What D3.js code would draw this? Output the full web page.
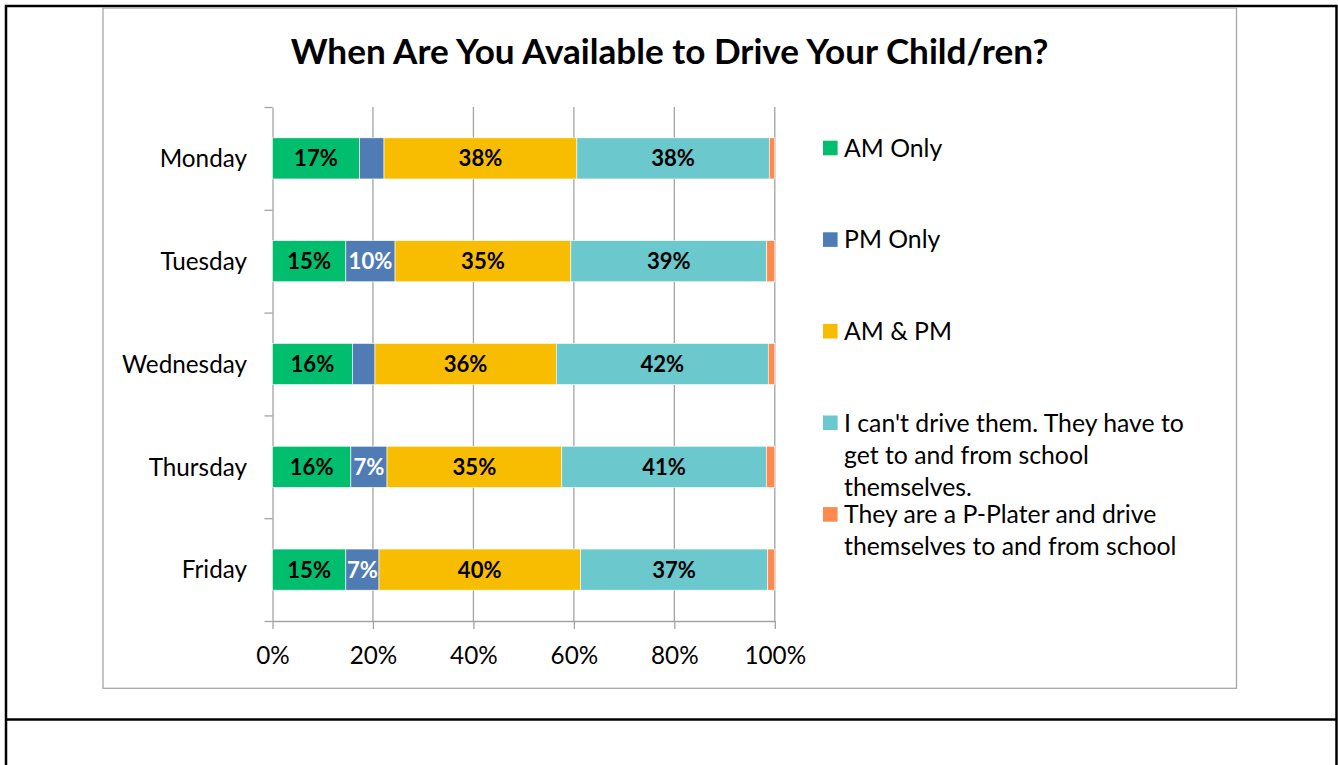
<!DOCTYPE html>
<html>
<head>
<meta charset="utf-8">
<script src="https://cdn.jsdelivr.net/npm/d3@7"></script>
<style>
  html, body { margin: 0; padding: 0; background: #fff; }
  svg { display: block; }
</style>
</head>
<body>
<svg id="chart" width="1338" height="765"></svg>
<script>
// ---- data ----
const days = ["Monday", "Tuesday", "Wednesday", "Thursday", "Friday"];
const seriesKeys = ["amOnly", "pmOnly", "amPm", "cantDrive", "pPlater"];
const amOnly    = [17.3, 14.6, 15.9, 15.6, 14.6];
const pmOnly    = [4.9, 9.8, 4.5, 7.2, 6.6];
const amPm      = [38.4, 35.0, 36.1, 34.8, 40.1];
const cantDrive = [38.3, 39.0, 42.2, 40.7, 37.3];
const pPlater   = [1.1, 1.6, 1.3, 1.7, 1.4];
const xTicks = [0, 20, 40, 60, 80, 100];
const legendLines = [
  ["AM Only"],
  ["PM Only"],
  ["AM & PM"],
  ["I can't drive them. They have to", "get to and from school", "themselves."],
  ["They are a P-Plater and drive", "themselves to and from school"]
];
const titleText = "When Are You Available to Drive Your Child/ren?";

// ---- styles ----
const colors = ["#00BE6E", "#507CB6", "#F8BD00", "#6BC8CC", "#FD8A4E"];
const labelColors = ["#000", "#fff", "#000", "#000", null];
const FONT = "Lato, 'Open Sans', sans-serif";
const gridColor = "#a3a3a3";

const svg = d3.select("#chart");

// font fitting helper
function measure(text, size, weight) {
  const t = svg.append("text").attr("font-family", FONT).attr("font-size", size)
    .attr("font-weight", weight).text(text);
  const w = t.node().getComputedTextLength();
  t.remove();
  return w;
}
const regSize = 26 * 125 / measure("Wednesday", 26, 400);
const legSize = 26 * 340 / measure("I can't drive them. They have to", 26, 400);
const boldLblSize = 26 * 43.7 / measure("38%", 26, 700);
const titleSize = 30 * 758 / measure(titleText, 30, 700);
const CAP = 0.7165;

// ---- frames ----
svg.append("rect").attr("x", 6).attr("y", 6).attr("width", 1330.5).attr("height", 800)
  .attr("fill", "none").attr("stroke", "#000").attr("stroke-width", 2.5);
svg.append("line").attr("x1", 6).attr("x2", 1336.5).attr("y1", 719.5).attr("y2", 719.5)
  .attr("stroke", "#000").attr("stroke-width", 2.5);
svg.append("rect").attr("x", 103).attr("y", 8).attr("width", 1133.5).attr("height", 680.3)
  .attr("fill", "#fff").attr("stroke", "#a6a6a6").attr("stroke-width", 1.3);

// ---- title ----
svg.append("text").attr("x", 669.5).attr("y", 63.5).attr("text-anchor", "middle")
  .attr("font-family", FONT).attr("font-weight", 700).attr("font-size", titleSize)
  .attr("fill", "#000").text(titleText);

// ---- scales ----
const x = d3.scaleLinear().domain([0, 100]).range([272.5, 774.8]);
const y = d3.scaleBand().domain(days).range([107, 621]).paddingInner(0.6).paddingOuter(0.3);
const yb = d3.scaleLinear().domain([0, days.length]).range([107, 621]);

// gridlines
svg.append("g").selectAll("line").data(xTicks.filter(d => d > 0)).join("line")
  .attr("x1", d => x(d)).attr("x2", d => x(d)).attr("y1", 107).attr("y2", 621)
  .attr("stroke", gridColor).attr("stroke-width", 1.3);

// bottom axis
const gx = svg.append("g").attr("transform", "translate(0,621)")
  .call(d3.axisBottom(x).tickValues(xTicks).tickSize(8).tickSizeOuter(0).tickFormat(d => d + "%"));
gx.select(".domain").attr("stroke", gridColor).attr("stroke-width", 1.3);
gx.selectAll(".tick line").attr("stroke", gridColor).attr("stroke-width", 1.3);
gx.selectAll(".tick text").attr("font-family", FONT).attr("font-size", regSize).attr("fill", "#000")
  .attr("dy", null).attr("y", 664 - 621);

// left axis (band boundaries)
const gy = svg.append("g").attr("transform", "translate(272.5,0)")
  .call(d3.axisLeft(yb).ticks(days.length).tickSize(8).tickSizeOuter(0).tickFormat(""));
gy.select(".domain").attr("stroke", gridColor).attr("stroke-width", 1.3);
gy.selectAll(".tick line").attr("stroke", gridColor).attr("stroke-width", 1.3);

// day labels
svg.append("g").selectAll("text").data(days).join("text")
  .attr("x", 247).attr("y", d => y(d) + y.bandwidth() / 2 + regSize * CAP / 2)
  .attr("text-anchor", "end").attr("font-family", FONT).attr("font-size", regSize)
  .attr("fill", "#000").text(d => d);

// ---- stacked bars ----
const seriesArrays = [amOnly, pmOnly, amPm, cantDrive, pPlater];
const rows = days.map((day, i) => {
  const r = { day };
  seriesKeys.forEach((k, j) => r[k] = seriesArrays[j][i]);
  return r;
});
const stacked = d3.stack().keys(seriesKeys)(rows);

const layers = svg.append("g").selectAll("g").data(stacked).join("g")
  .attr("fill", (d, i) => colors[i]);
layers.selectAll("rect").data(d => d).join("rect")
  .attr("x", d => x(d[0])).attr("width", d => x(d[1]) - x(d[0]))
  .attr("y", d => y(d.data.day)).attr("height", y.bandwidth())
  .attr("stroke", "#fff").attr("stroke-width", 0.6);

// labels
stacked.forEach((layer, i) => {
  if (!labelColors[i]) return;
  svg.append("g").selectAll("text").data(layer.filter(d => d[1] - d[0] >= 6)).join("text")
    .attr("x", d => (x(d[0]) + x(d[1])) / 2)
    .attr("y", d => y(d.data.day) + y.bandwidth() / 2 + boldLblSize * CAP / 2)
    .attr("text-anchor", "middle").attr("font-family", FONT).attr("font-weight", 700)
    .attr("font-size", boldLblSize).attr("fill", labelColors[i])
    .text(d => Math.round(d[1] - d[0]) + "%");
});

// ---- legend ----
const legTop = 148, legStep = 91.6, lineH = 32;
const leg = svg.append("g").selectAll("g").data(legendLines).join("g")
  .attr("transform", (d, i) => `translate(0,${legTop + i * legStep})`);
leg.append("rect").attr("x", 823).attr("y", -7.3).attr("width", 14.6).attr("height", 14.6)
  .attr("fill", (d, i) => colors[i]);
leg.each(function (lines) {
  d3.select(this).selectAll("text").data(lines).join("text")
    .attr("x", 844).attr("y", (d, k) => k * lineH + legSize * CAP / 2)
    .attr("font-family", FONT).attr("font-size", legSize).attr("fill", "#000").text(d => d);
});
</script>
</body>
</html>
